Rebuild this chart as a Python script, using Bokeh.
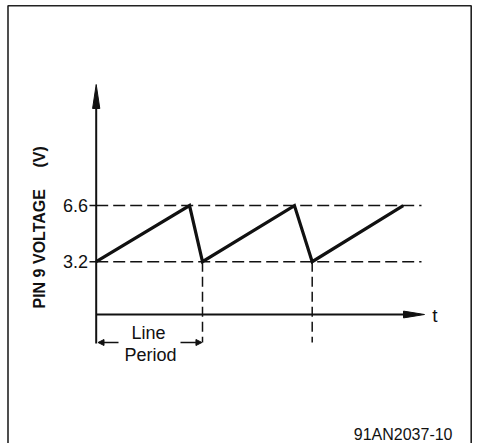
import math
from bokeh.plotting import figure
from bokeh.models import Range1d, Arrow, NormalHead
from bokeh.core.properties import value
from bokeh.embed import file_html
from bokeh.resources import INLINE

# ---- data ----
t_wave = [0.0, 0.878, 1.0, 1.865, 2.032, 2.888]
v_wave = [3.2, 6.6, 3.2, 6.6, 3.2, 6.6]
levels = [6.6, 3.2]
level_labels = ["6.6", "3.2"]
t_resets = [1.0, 2.032]
y_label = "PIN 9 VOLTAGE"
y_unit = "(V)"
x_label = "t"
period_text = ["Line", "Period"]
fig_code = "91AN2037-10"

# ---- layout (page pixel mapping) ----
W, H = 479, 443
PAGE_OFF = 0
ORIG_X, ORIG_Y = 95.7, 314.0   # page px of (t=0, v=0)
PX_T, PX_V = 106.3, 16.5


def X(px):
    return (px - ORIG_X) / PX_T


def Y(py):
    return (ORIG_Y - py) / PX_V


p = figure(width=W, height=H, output_backend="svg", toolbar_location=None,
           x_range=Range1d(X(PAGE_OFF), X(PAGE_OFF + W)),
           y_range=Range1d(Y(PAGE_OFF + H), Y(PAGE_OFF)),
           x_axis_type=None, y_axis_type=None, min_border=0)
p.grid.visible = False
p.outline_line_color = None
p.background_fill_color = "white"
p.border_fill_color = "white"

FONT = value("Liberation Sans")
ink = "#111111"

# frame (left, top, right)
fx0, fx1 = X(7.5), X(470.7)
fy0, fy1 = Y(H + 20), Y(5.3)
p.line([fx0, fx0, fx1, fx1], [fy0, fy1, fy1, fy0], line_color="#222222", line_width=1.6)

# dashed reference levels
x_end_dash = X(421)
for lv in levels:
    p.line([0, x_end_dash], [lv, lv], line_color=ink, line_width=1.5, line_dash="12 5")

# dashed verticals at reset times
v_bottom = Y(342)
for tr in t_resets:
    p.line([tr, tr], [min(v_wave), v_bottom], line_color=ink, line_width=1.5, line_dash="10 5")

# y axis with arrowhead
y_tip, y_base = Y(84), Y(108)
p.line([0, 0], [Y(343), y_base], line_color=ink, line_width=2)
hw = 3.6 / PX_T
p.patch([-hw, 0, hw], [y_base, y_tip, y_base], fill_color=ink, line_color=ink, line_width=1)

# x axis with arrowhead
x_tip, x_base = X(424), X(403)
p.line([0, x_base], [0, 0], line_color=ink, line_width=2)
hv = 3.4 / PX_V
p.patch([x_base, x_tip, x_base], [-hv, 0, hv], fill_color=ink, line_color=ink, line_width=1)

# y ticks
for lv in levels:
    p.line([X(89), 0], [lv, lv], line_color=ink, line_width=1.5)

# sawtooth
p.line(t_wave, v_wave, line_color=ink, line_width=3.2, line_join="miter")

# tick labels
p.text(x=[X(87.5)] * len(levels), y=levels, text=level_labels, text_align="right",
       text_baseline="middle", text_font=FONT, text_font_size=value("18px"), text_color=ink)

# axis labels
p.text(x=[X(39)], y=[Y(308)], text=[y_label], angle=math.pi / 2, text_align="left",
       text_baseline="middle", text_font=FONT, text_font_style="bold",
       text_font_size=value("16px"), text_color=ink)
p.text(x=[X(39)], y=[Y(167)], text=[y_unit], angle=math.pi / 2, text_align="left",
       text_baseline="middle", text_font=FONT, text_font_style="bold",
       text_font_size=value("16px"), text_color=ink)
p.text(x=[X(434.5)], y=[Y(315)], text=[x_label], text_align="center",
       text_baseline="middle", text_font=FONT, text_font_size=value("19px"), text_color=ink)

# line period annotation
ya = Y(342)
p.add_layout(Arrow(end=NormalHead(size=6, fill_color=ink, line_color=ink),
                   x_start=X(118), y_start=ya, x_end=X(97.5), y_end=ya,
                   line_color=ink, line_width=1.3))
p.add_layout(Arrow(end=NormalHead(size=6, fill_color=ink, line_color=ink),
                   x_start=X(180), y_start=ya, x_end=t_resets[0] - 0.005, y_end=ya,
                   line_color=ink, line_width=1.3))
p.text(x=[X(148), X(150)], y=[Y(332), Y(354)], text=period_text, text_align="center",
       text_baseline="middle", text_font=FONT, text_font_size=value("18px"), text_color=ink)

# figure code
p.text(x=[X(452)], y=[Y(434)], text=[fig_code], text_align="right",
       text_baseline="middle", text_font=FONT, text_font_size=value("16px"), text_color=ink)

open("out.html", "w").write(file_html(p, INLINE))
